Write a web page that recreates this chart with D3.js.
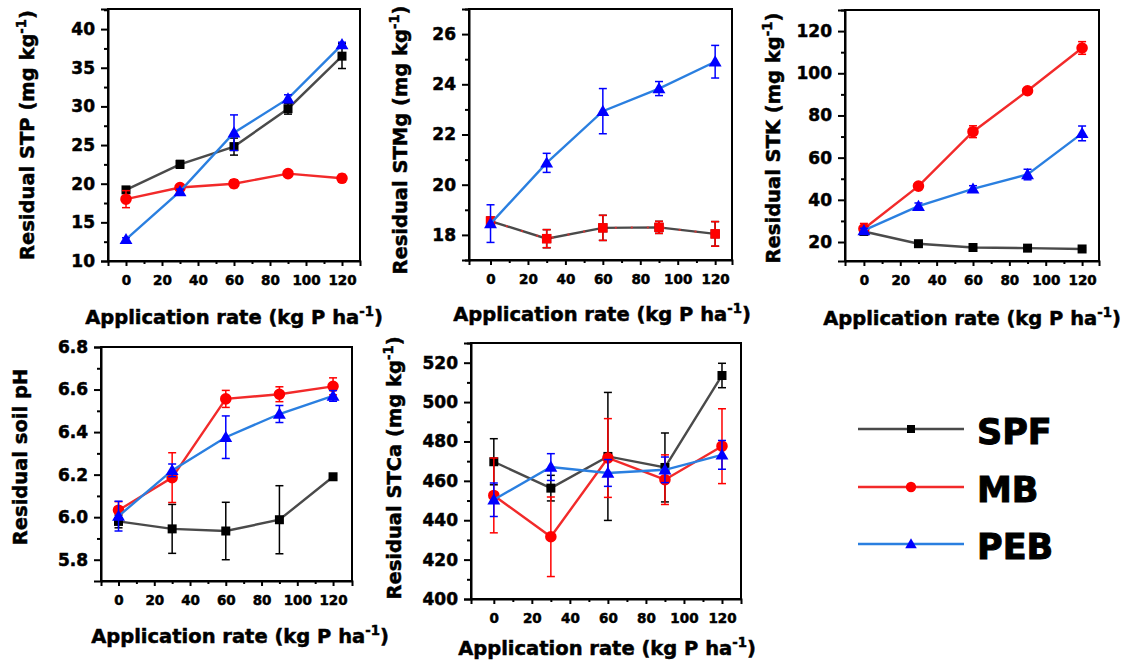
<!DOCTYPE html>
<html>
<head>
<meta charset="utf-8">
<script src="https://cdn.jsdelivr.net/npm/d3@7"></script>
<style>
  html, body { margin: 0; padding: 0; background: #fff; }
  svg { display: block; font-family: "DejaVu Sans", sans-serif; font-weight: bold; }
  svg text { stroke: #000; stroke-width: 0.5px; paint-order: stroke; }
</style>
</head>
<body>
<svg id="chart" width="1131" height="660"></svg>
<script>
// Application rates (kg P ha-1) shared by every panel
const rates = [0, 30, 60, 90, 120];
const xTickValues = [0, 20, 40, 60, 80, 100, 120];
const seriesNames = ["SPF", "MB", "PEB"];

// Residual soil test P (mg kg-1)
const stpSPF = [19.2, 22.5, 24.8, 29.7, 36.5];
const stpSPFErr = [0.3, 0.5, 1.1, 0.7, 1.6];
const stpMB = [18.0, 19.5, 20.0, 21.3, 20.7];
const stpMBErr = [1.1, 0.3, 0.5, 0.3, 0.5];
const stpPEB = [12.8, 19.0, 26.6, 31.0, 38.0];
const stpPEBErr = [0.2, 0.3, 2.3, 0.5, 0.3];
const stpTicks = [10, 15, 20, 25, 30, 35, 40];

// Residual soil test Mg (mg kg-1)
const stmgSPF = [18.55, 17.85, 18.28, 18.30, 18.04];
const stmgSPFErr = [0.15, 0.36, 0.5, 0.24, 0.49];
const stmgMB = [18.55, 17.85, 18.28, 18.30, 18.04];
const stmgMBErr = [0.15, 0.36, 0.5, 0.24, 0.49];
const stmgPEB = [18.45, 20.87, 22.93, 23.83, 24.90];
const stmgPEBErr = [0.75, 0.38, 0.9, 0.28, 0.65];
const stmgTicks = [18, 20, 22, 24, 26];

// Residual soil test K (mg kg-1)
const stkSPF = [25.0, 19.2, 17.4, 17.1, 16.7];
const stkSPFErr = [1.0, 0.6, 0.5, 0.5, 0.5];
const stkMB = [26.3, 46.5, 72.3, 91.7, 112.0];
const stkMBErr = [2.5, 1.0, 2.8, 1.2, 3.0];
const stkPEB = [25.5, 37.0, 45.2, 52.0, 71.5];
const stkPEBErr = [1.0, 1.5, 1.5, 2.5, 3.5];
const stkTicks = [20, 40, 60, 80, 100, 120];

// Residual soil pH
const phSPF = [5.98, 5.945, 5.935, 5.988, 6.19];
const phSPFErr = [0.03, 0.115, 0.135, 0.16, 0.01];
const phMB = [6.033, 6.186, 6.556, 6.578, 6.615];
const phMBErr = [0.04, 0.117, 0.04, 0.035, 0.04];
const phPEB = [6.005, 6.22, 6.376, 6.485, 6.570];
const phPEBErr = [0.07, 0.03, 0.1, 0.04, 0.025];
const phTicks = [5.8, 6.0, 6.2, 6.4, 6.6, 6.8];

// Residual soil test Ca (mg kg-1)
const stcaSPF = [469.7, 456.3, 472.4, 466.8, 513.5];
const stcaSPFErr = [11.7, 6.5, 32.5, 17.5, 6.2];
const stcaMB = [452.6, 431.6, 471.6, 460.6, 477.6];
const stcaMBErr = [19.0, 20.2, 20.0, 12.6, 19.0];
const stcaPEB = [450.4, 467.0, 464.0, 465.6, 473.2];
const stcaPEBErr = [8.5, 6.8, 6.8, 6.5, 7.3];
const stcaTicks = [400, 420, 440, 460, 480, 500, 520];

const colors = {
  SPF: { line: "#4a4a4a", mark: "#000000" },
  MB:  { line: "#f22a2a", mark: "#ff0000" },
  PEB: { line: "#2a7fe0", mark: "#0000ff" }
};
const symbols = { SPF: d3.symbolSquare, MB: d3.symbolCircle, PEB: d3.symbolTriangle };
const symbolSizes = { SPF: 81, MB: 105, PEB: 72 };

const panels = [
  {
    frame: { l: 108, t: 9, r: 360, b: 261 }, xDomain: [-10, 130], yDomain: [10, 42.6],
    yTicks: stpTicks, yFmt: d3.format("d"), title: "Residual STP (mg kg", unit: true,
    yTitleX: 34, yTitleY: 135, xTitleX: 234, xTitleY: 324,
    data: { SPF: [stpSPF, stpSPFErr], MB: [stpMB, stpMBErr], PEB: [stpPEB, stpPEBErr] }
  },
  {
    frame: { l: 469, t: 9, r: 732, b: 260 }, xDomain: [-11.5, 129], yDomain: [17, 27],
    yTicks: stmgTicks, yFmt: d3.format("d"), title: "Residual STMg (mg kg", unit: true,
    yTitleX: 407, yTitleY: 140, xTitleX: 602, xTitleY: 321,
    mbDashed: true, mbSymbol: d3.symbolSquare, mbSize: 90,
    data: { SPF: [stmgSPF, stmgSPFErr], MB: [stmgMB, stmgMBErr], PEB: [stmgPEB, stmgPEBErr] }
  },
  {
    frame: { l: 845, t: 10, r: 1099, b: 261 }, xDomain: [-10.4, 129.3], yDomain: [11, 130],
    yTicks: stkTicks, yFmt: d3.format("d"), title: "Residual STK (mg kg", unit: true,
    yTitleX: 780, yTitleY: 138, xTitleX: 972, xTitleY: 325,
    data: { SPF: [stkSPF, stkSPFErr], MB: [stkMB, stkMBErr], PEB: [stkPEB, stkPEBErr] }
  },
  {
    frame: { l: 101, t: 347, r: 352, b: 581 }, xDomain: [-9.8, 130.6], yDomain: [5.7, 6.8],
    yTicks: phTicks, yFmt: d3.format(".1f"), title: "Residual soil pH", unit: false,
    yTitleX: 27, yTitleY: 457, xTitleX: 240, xTitleY: 643,
    data: { SPF: [phSPF, phSPFErr], MB: [phMB, phMBErr], PEB: [phPEB, phPEBErr] }
  },
  {
    frame: { l: 471, t: 343, r: 741, b: 599 }, xDomain: [-12, 130], yDomain: [400, 530],
    yTicks: stcaTicks, yFmt: d3.format("d"), title: "Residual STCa (mg kg", unit: true,
    yTitleX: 401, yTitleY: 468, xTitleX: 607, xTitleY: 655,
    data: { SPF: [stcaSPF, stcaSPFErr], MB: [stcaMB, stcaMBErr], PEB: [stcaPEB, stcaPEBErr] }
  }
];

const svg = d3.select("#chart");

// Title text with a "-1" superscript on the unit
function addTitle(sel, main, withUnit, size) {
  sel.attr("font-size", size);
  sel.append("tspan").text(main);
  if (withUnit) {
    sel.append("tspan").attr("font-size", size * 0.68).attr("dy", -size * 0.42).text("-1");
    sel.append("tspan").attr("dy", size * 0.42).text(")");
  }
}

function midpoints(arr) {
  const out = [];
  for (let i = 0; i < arr.length - 1; i++) out.push((arr[i] + arr[i + 1]) / 2);
  return out;
}

panels.forEach(p => {
  const f = p.frame;
  const x = d3.scaleLinear().domain(p.xDomain).range([f.l, f.r]);
  const y = d3.scaleLinear().domain(p.yDomain).range([f.b, f.t]);
  const g = svg.append("g");

  // frame
  g.append("rect")
    .attr("x", f.l).attr("y", f.t)
    .attr("width", f.r - f.l).attr("height", f.b - f.t)
    .attr("fill", "none").attr("stroke", "#000").attr("stroke-width", 2);

  // y axis: major + minor ticks
  const step = p.yTicks[1] - p.yTicks[0];
  const yMinor = midpoints(p.yTicks).concat(
    [p.yTicks[p.yTicks.length - 1] + step / 2].filter(v => v <= p.yDomain[1]),
    [p.yTicks[0] - step / 2].filter(v => v >= p.yDomain[0])
  );
  const yAx = g.append("g").attr("transform", `translate(${f.l},0)`)
    .call(d3.axisLeft(y).tickValues(p.yTicks).tickFormat(p.yFmt).tickSize(7).tickPadding(6));
  g.append("g").attr("transform", `translate(${f.l},0)`)
    .call(d3.axisLeft(y).tickValues(yMinor).tickFormat("").tickSize(4))
    .call(s => s.select(".domain").remove());

  // x axis: major + minor ticks
  const xMinor = [10, 30, 50, 70, 90, 110];
  const xAx = g.append("g").attr("transform", `translate(0,${f.b})`)
    .call(d3.axisBottom(x).tickValues(xTickValues).tickFormat(d3.format("d")).tickSize(5).tickPadding(9));
  g.append("g").attr("transform", `translate(0,${f.b})`)
    .call(d3.axisBottom(x).tickValues(xMinor).tickFormat("").tickSize(3))
    .call(s => s.select(".domain").remove());

  g.selectAll(".domain").attr("stroke-width", 2);
  g.selectAll(".tick line").attr("stroke-width", 2);
  yAx.selectAll("text").attr("font-size", 17).attr("font-family", "DejaVu Sans").attr("font-weight", "bold");
  xAx.selectAll("text").attr("font-size", 13.5).attr("font-family", "DejaVu Sans").attr("font-weight", "bold");

  // axis titles
  addTitle(g.append("text")
    .attr("transform", `translate(${p.yTitleX},${p.yTitleY}) rotate(-90)`)
    .attr("text-anchor", "middle"), p.title, p.unit, 19.5);
  addTitle(g.append("text")
    .attr("x", p.xTitleX).attr("y", p.xTitleY)
    .attr("text-anchor", "middle"), "Application rate (kg P ha", true, 19.5);

  // series: lines, error bars, markers
  const line = d3.line().x(d => x(d.r)).y(d => y(d.v));
  seriesNames.forEach(name => {
    const [vals, errs] = p.data[name];
    const pts = rates.map((r, i) => ({ r, v: vals[i], e: errs[i] }));
    const c = colors[name];
    const sg = g.append("g");

    if (name === "MB" && p.mbDashed) {
      sg.append("path").attr("d", line(pts)).attr("fill", "none")
        .attr("stroke", c.line).attr("stroke-width", 2).attr("stroke-dasharray", "2,14")
        .attr("stroke-opacity", 0.8);
    } else {
      sg.append("path").attr("d", line(pts)).attr("fill", "none")
        .attr("stroke", c.line).attr("stroke-width", 2.4);
    }

    const eb = sg.selectAll(".eb").data(pts).join("g").attr("stroke", c.mark).attr("stroke-width", 1.5);
    eb.append("line").attr("x1", d => x(d.r)).attr("x2", d => x(d.r))
      .attr("y1", d => y(d.v - d.e)).attr("y2", d => y(d.v + d.e));
    eb.append("line").attr("x1", d => x(d.r) - 4).attr("x2", d => x(d.r) + 4)
      .attr("y1", d => y(d.v + d.e)).attr("y2", d => y(d.v + d.e));
    eb.append("line").attr("x1", d => x(d.r) - 4).attr("x2", d => x(d.r) + 4)
      .attr("y1", d => y(d.v - d.e)).attr("y2", d => y(d.v - d.e));

    let sym = symbols[name], size = symbolSizes[name];
    if (name === "MB" && p.mbSymbol) { sym = p.mbSymbol; size = p.mbSize; }
    sg.selectAll(".mk").data(pts).join("path")
      .attr("transform", d => `translate(${x(d.r)},${y(d.v) + (name === "PEB" ? 1 : 0)})`)
      .attr("d", d3.symbol().type(sym).size(size))
      .attr("fill", c.mark);
  });
});

// legend
const legendY = { SPF: 429, MB: 487, PEB: 544 };
seriesNames.forEach(name => {
  const c = colors[name];
  const lg = svg.append("g");
  lg.append("line").attr("x1", 858).attr("x2", 964)
    .attr("y1", legendY[name]).attr("y2", legendY[name])
    .attr("stroke", c.line).attr("stroke-width", 2.4);
  lg.append("path")
    .attr("transform", `translate(911,${legendY[name] + (name === "PEB" ? 1 : 0)})`)
    .attr("d", d3.symbol().type(symbols[name]).size(symbolSizes[name] * 0.8))
    .attr("fill", c.mark);
  lg.append("text").attr("x", 977).attr("y", legendY[name] + 15)
    .attr("font-size", 35).style("stroke-width", "1px").text(name);
});
</script>
</body>
</html>
